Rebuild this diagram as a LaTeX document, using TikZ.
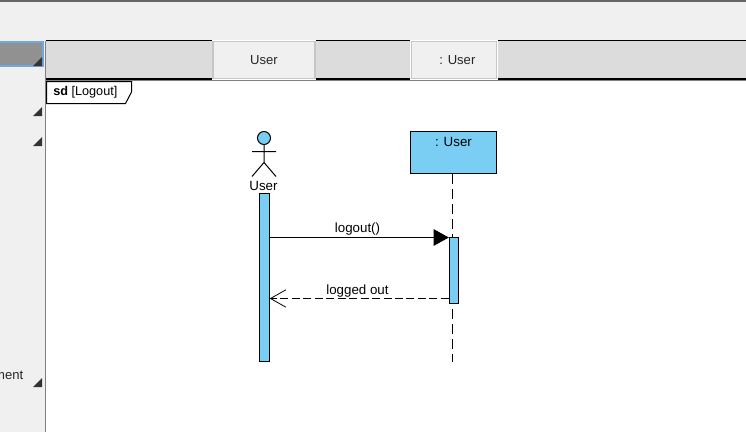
\documentclass[tikz,border=0pt]{standalone}
\usepackage{fontspec}
\setmainfont{Liberation Sans}
\usetikzlibrary{arrows.meta}
\definecolor{panelgray}{HTML}{F0F0F0}
\definecolor{bandgray}{HTML}{DCDCDC}
\definecolor{umlblue}{HTML}{7ACEF4}
\definecolor{selblue}{HTML}{6EA8E0}
\tikzset{
    x=0.75pt,y=-0.75pt,
    headcell/.style={draw=black!22,line width=0.8pt,fill=panelgray,preaction={draw=white,line width=2pt},minimum width=#1*0.75pt,minimum height=27.5pt,inner sep=0pt,font=\fontsize{9.8}{11}\selectfont,text=black!85},
    umlbar/.style={draw=black,line width=0.75pt,fill=umlblue,minimum width=7pt,inner sep=0pt},
    umltext/.style={inner sep=0pt,font=\fontsize{10}{12}\selectfont}
}
\begin{document}
\begin{tikzpicture}
    \useasboundingbox (0,0) rectangle (746,432);
    \fill[panelgray] (0,0) rectangle (746,432);
    \fill[black!60] (0,0) rectangle (746,1.5);
    \fill[white] (46,80) rectangle (746,432);
    \draw[black!50,line width=0.9pt] (45.5,41) -- (45.5,432);
    \fill[black!43,draw=selblue,line width=1.5pt] (-2,41.5) rectangle (42.5,65.5);
    \fill[bandgray] (46,41) rectangle (746,79);
    \draw[black,line width=0.8pt] (45.5,40.5) -- (746,40.5);
    \draw[black!50,line width=0.75pt] (45.5,80.5) -- (746,80.5);
    \draw[black,line width=1.5pt] (45.5,79) -- (746,79);
    \node[headcell=102] (headuser) at (264,60) {\raisebox{-0.4pt}{User}};
    \node[headcell=85] (headobj) at (454,60) {\raisebox{-0.4pt}{\hspace*{5pt}: User}};
    \foreach \cy in {66,116,146,387}
        \fill[black!80] (42,\cy) -- (33,\cy) -- (42,\cy-9) -- cycle;
    \node[anchor=east,inner sep=0pt,font=\fontsize{9.8}{11}\selectfont,text=black!85] (cutlabel) at (23.5,375) {ment};
    \draw[black,line width=0.75pt,fill=white] (46.5,81.5) -- (131.5,81.5) -- (131.5,92) -- (125.5,103.5) -- (46.5,103.5) -- cycle;
    \node[anchor=west,inner sep=0pt,font=\fontsize{9.5}{11}\selectfont] (framelabel) at (53,92.5) {\textbf{sd} [Logout]};
    \draw[black,line width=0.75pt,fill=umlblue] (264,138) circle (6.5);
    \draw[black,line width=0.75pt] (264,144.5) -- (264,162.5) (252,151.5) -- (276,151.5) (252,176.5) -- (264,162.5) -- (276,176.5);
    \node[umltext] (actorlabel) at (263.5,185.5) {User};
    \node[umlbar,minimum height=126pt] (baruser) at (264.5,277.5) {};
    \node[draw=black,line width=0.9pt,fill=umlblue,minimum width=65pt,minimum height=32pt,inner sep=0pt] (boxobj) at (453.5,152.5) {};
    \node[umltext] (boxlabel) at (453.5,141.5) {: User};
    \coordinate (lifeend) at (452.5,362);
    \draw[black,line width=0.8pt,dash pattern=on 7.5pt off 3.75pt] (boxobj.south -| lifeend) -- (lifeend);
    \node[umlbar,minimum height=50pt] (barobj) at (454,270.5) {};
    \coordinate (callfrom) at (baruser.east |- 0,237.5);
    \coordinate (callto) at (barobj.west |- 0,237.5);
    \coordinate (backfrom) at (barobj.west |- 0,298.5);
    \coordinate (backto) at (baruser.east |- 0,298.5);
    \draw[black,line width=0.8pt,-{Triangle[length=11.5pt,width=12.5pt]}] (callfrom) -- (callto);
    \draw[black,line width=0.8pt,dash pattern=on 6pt off 2.6pt,-{Straight Barb[length=11.5pt,width=13pt,line width=0.6pt]}] (backfrom) -- (backto);
    \node[umltext] (calllabel) at (357.5,229) {logout()};
    \node[umltext] (backlabel) at (357.5,291) {logged out};
\end{tikzpicture}
\end{document}
